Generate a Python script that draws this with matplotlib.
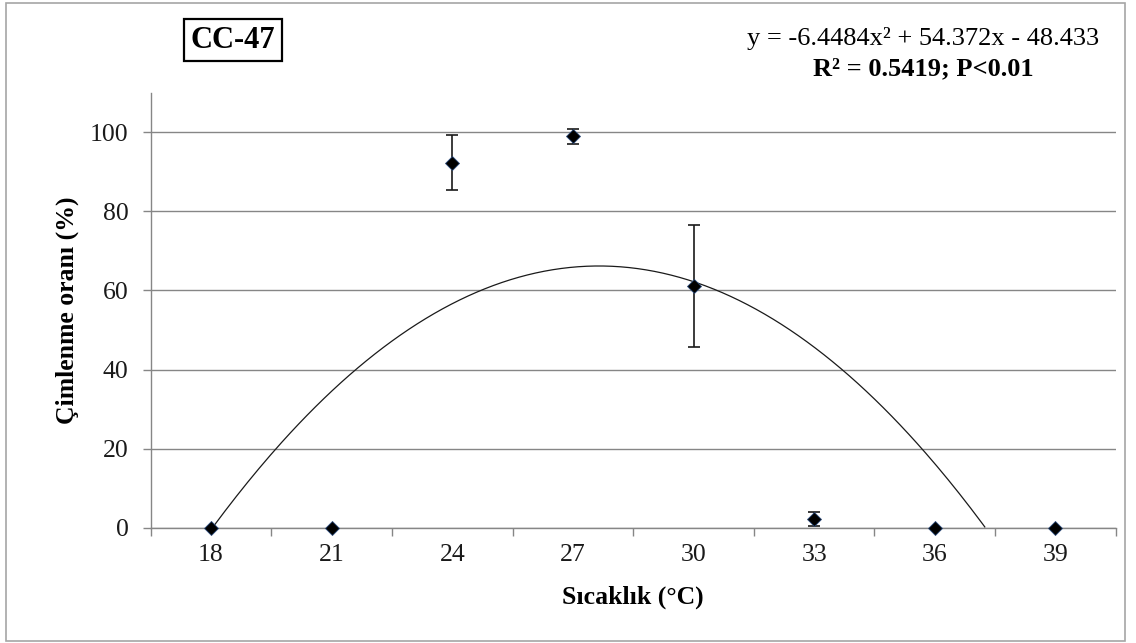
import numpy as np
import matplotlib
matplotlib.use('Agg')
import matplotlib.pyplot as plt
from matplotlib.patches import Rectangle

# Data
temps = ['18', '21', '24', '27', '30', '33', '36', '39']
germ = [0, 0, 92.3, 99.0, 61.2, 2.2, 0, 0]
err = [0, 0, 7.0, 1.9, 15.4, 1.8, 0, 0]
yticks = [0, 20, 40, 60, 80, 100]
coef = [-6.4484, 54.372, -48.433]   # trend line from the chart's equation

plt.rcParams['font.family'] = ['Liberation Serif', 'DejaVu Serif']

W, H = 1136, 643
fig = plt.figure(figsize=(W / 100, H / 100), dpi=100)

# outer chart frame
fig.patches.append(Rectangle((6 / W, 2 / H), 1119 / W, 638 / H, transform=fig.transFigure,
                             fill=False, edgecolor='#a6a6a6', linewidth=1.2))

left, right, top, bottom = 150.7, 1115.7, 92.7, 527.7
ax = fig.add_axes([left / W, (H - bottom) / H, (right - left) / W, (bottom - top) / H])

x = np.arange(1, len(temps) + 1)
ax.set_xlim(0.5, len(temps) + 0.5)
ax.set_ylim(0, 110)

gray = '#868686'
ax.set_yticks(yticks)
ax.yaxis.grid(True, color=gray, linewidth=1.0)
ax.set_axisbelow(True)
for s in ['top', 'right']:
    ax.spines[s].set_visible(False)
for s in ['left', 'bottom']:
    ax.spines[s].set_color(gray)
    ax.spines[s].set_linewidth(1.0)

ax.set_xticks(x)
ax.set_xticklabels(temps)
ax.set_xticks(np.arange(0.5, len(temps) + 1), minor=True)
ax.tick_params(axis='x', which='major', length=0, pad=12, labelsize=18.5, labelcolor='#1a1a1a')
ax.tick_params(axis='x', which='minor', length=6, width=1.0, color=gray, direction='out')
ax.tick_params(axis='y', length=6, width=1.0, color=gray, pad=10, labelsize=18.5, labelcolor='#1a1a1a')

# trend line (clipped at 0 like the original)
xs = np.linspace(1, len(temps), 300)
ys = np.polyval(coef, xs)
ys = np.where(ys < 0, np.nan, ys)
ax.plot(xs, ys, color='#1a1a1a', linewidth=0.9, zorder=3)

# error bars only where there is spread
idx = [i for i, e in enumerate(err) if e > 0]
ax.errorbar(x[idx], [germ[i] for i in idx], yerr=[err[i] for i in idx], fmt='none',
            ecolor='#1a1a1a', elinewidth=1.2, capsize=4.6, capthick=1.2, zorder=4)
ax.plot(x, germ, linestyle='none', marker='D', markersize=7, color='black',
        markeredgecolor='#2a4a7a', markeredgewidth=0.6, zorder=5, clip_on=False)

fig.text(633 / W, (H - 597) / H, 'Sıcaklık (°C)', ha='center', va='center',
         fontsize=18.5, fontweight='bold')
fig.text(67 / W, (H - 310) / H, 'Çimlenme oranı (%)', ha='center', va='center',
         rotation=90, fontsize=18.5, fontweight='bold')

fig.text(233 / W, (H - 40) / H, 'CC-47', ha='center', va='center', fontsize=22,
         fontweight='bold',
         bbox=dict(boxstyle='square,pad=0.22', facecolor='white', edgecolor='black', linewidth=1.6))

fig.text(923 / W, (H - 39) / H, 'y = -6.4484x² + 54.372x - 48.433', ha='center', va='center',
         fontsize=19)
fig.text(923 / W, (H - 69) / H, 'R² = 0.5419; P<0.01', ha='center', va='center',
         fontsize=19, fontweight='bold')

fig.savefig('out.png', dpi=100)
